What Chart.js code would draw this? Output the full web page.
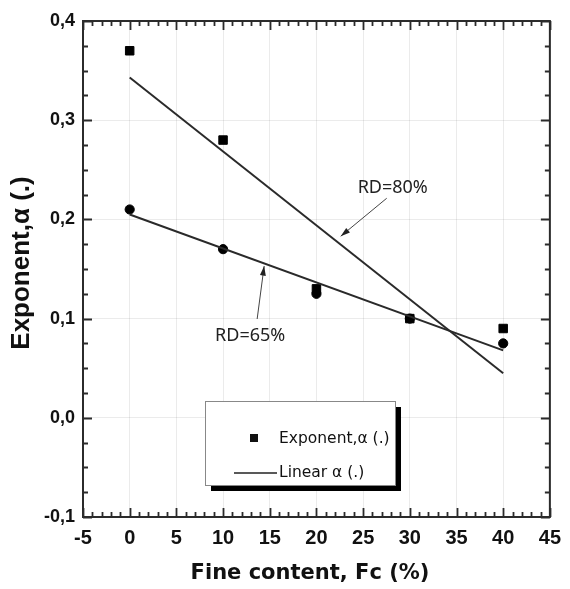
<!DOCTYPE html>
<html>
<head>
<meta charset="utf-8">
<script src="https://cdn.jsdelivr.net/npm/chart.js@4.4.0/dist/chart.umd.min.js"></script>
<style>
  html, body { margin: 0; padding: 0; background: #fff; }
</style>
</head>
<body>
<canvas id="myChart" width="570" height="589"></canvas>
<script>
// Fine content (%) of the tested mixes
const fineContent = [0, 10, 20, 30, 40];
// Measured exponent alpha: RD=80% (squares) and RD=65% (circles)
const alphaRD80 = [0.37, 0.28, 0.13, 0.10, 0.09];
const alphaRD65 = [0.21, 0.17, 0.125, 0.10, 0.075];
// Linear trend lines, read at both ends
const fitX = [0, 40];
const fitRD80 = [0.343, 0.045];
const fitRD65 = [0.205, 0.068];
// Texts
const legendLabels = ['Exponent,\u03b1 (.)', 'Linear \u03b1 (.)'];
const xTitle = 'Fine content, Fc (%)';
const yTitle = 'Exponent,\u03b1 (.)';

const toPoints = (xs, ys) => xs.map((v, i) => ({ x: v, y: ys[i] }));

// arrow annotations: tip in data units, tail and label offsets in pixels
const notes = [
    { text: 'RD=80%', x: 22.6, y: 0.183, tail: [46, -38], label: [52, -48] },
    { text: 'RD=65%', x: 14.4, y: 0.153, tail: [-7, 53], label: [-14, 70] }
];

const drawArrow = (ctx, x1, y1, x2, y2) => {
    ctx.beginPath();
    ctx.moveTo(x1, y1);
    ctx.lineTo(x2, y2);
    ctx.stroke();
    const ang = Math.atan2(y2 - y1, x2 - x1);
    ctx.beginPath();
    ctx.moveTo(x2, y2);
    ctx.lineTo(x2 - 10 * Math.cos(ang - 0.3), y2 - 10 * Math.sin(ang - 0.3));
    ctx.lineTo(x2 - 10 * Math.cos(ang + 0.3), y2 - 10 * Math.sin(ang + 0.3));
    ctx.closePath();
    ctx.fill();
};

const framePlugin = {
    id: 'frame',
    afterDraw(chart) {
        const { ctx, chartArea: a, scales: { x, y } } = chart;
        ctx.save();
        ctx.strokeStyle = '#2b2b2b';
        ctx.lineWidth = 2;
        ctx.strokeRect(a.left, a.top, a.right - a.left, a.bottom - a.top);

        // inward ticks on all four sides
        ctx.lineWidth = 1.8;
        ctx.beginPath();
        for (let v = -5; v <= 45; v += 1) {
            const px = Math.round(x.getPixelForValue(v)) + 0.5;
            const len = v % 5 === 0 ? 9 : 5;
            ctx.moveTo(px, a.bottom); ctx.lineTo(px, a.bottom - len);
            ctx.moveTo(px, a.top); ctx.lineTo(px, a.top + len);
        }
        for (let i = 0; i <= 20; i++) {
            const py = Math.round(y.getPixelForValue(-0.1 + i * 0.025)) + 0.5;
            const len = i % 4 === 0 ? 9 : 5;
            ctx.moveTo(a.left, py); ctx.lineTo(a.left + len, py);
            ctx.moveTo(a.right, py); ctx.lineTo(a.right - len, py);
        }
        ctx.stroke();

        // axis titles
        ctx.fillStyle = '#111';
        ctx.textAlign = 'center';
        ctx.textBaseline = 'middle';
        ctx.font = 'bold 21px "DejaVu Sans"';
        ctx.fillText(xTitle, 310, 574);
        ctx.save();
        ctx.translate(22, 263);
        ctx.rotate(-Math.PI / 2);
        ctx.font = 'bold 26px "Liberation Sans"';
        ctx.fillText(yTitle, 0, 0);
        ctx.restore();

        // annotations
        ctx.strokeStyle = '#444';
        ctx.fillStyle = '#222';
        ctx.lineWidth = 1;
        ctx.font = '18px "Noto Sans"';
        notes.forEach(n => {
            const tx = x.getPixelForValue(n.x), ty = y.getPixelForValue(n.y);
            ctx.fillText(n.text, tx + n.label[0], ty + n.label[1]);
            drawArrow(ctx, tx + n.tail[0], ty + n.tail[1], tx, ty);
        });

        // legend box with drop shadow
        const bx = 205, by = 401, bw = 190, bh = 84;
        ctx.fillStyle = '#000';
        ctx.fillRect(bx + 6, by + 6, bw, bh);
        ctx.fillStyle = '#fff';
        ctx.fillRect(bx, by, bw, bh);
        ctx.strokeStyle = '#888';
        ctx.lineWidth = 1;
        ctx.strokeRect(bx + 0.5, by + 0.5, bw, bh);
        ctx.fillStyle = '#111';
        ctx.fillRect(250, 434, 8, 8);
        ctx.strokeStyle = '#222';
        ctx.lineWidth = 1.5;
        ctx.beginPath();
        ctx.moveTo(234, 473); ctx.lineTo(277, 473);
        ctx.stroke();
        ctx.textAlign = 'left';
        ctx.font = '15.5px "DejaVu Sans"';
        ctx.fillText(legendLabels[0], 279, 439);
        ctx.fillText(legendLabels[1], 279, 473);
        ctx.restore();
    }
};

const ctx = document.getElementById('myChart').getContext('2d');
const myChart = new Chart(ctx, {
    type: 'scatter',
    data: {
        datasets: [
            {
                label: 'Linear RD=80%',
                type: 'line',
                data: toPoints(fitX, fitRD80),
                borderColor: '#2a2a2a',
                borderWidth: 2,
                pointRadius: 0
            },
            {
                label: 'Linear RD=65%',
                type: 'line',
                data: toPoints(fitX, fitRD65),
                borderColor: '#2a2a2a',
                borderWidth: 2,
                pointRadius: 0
            },
            {
                label: 'RD=80%',
                data: toPoints(fineContent, alphaRD80),
                pointStyle: 'rect',
                pointRadius: 6,
                backgroundColor: '#000',
                borderColor: '#000'
            },
            {
                label: 'RD=65%',
                data: toPoints(fineContent, alphaRD65),
                pointStyle: 'circle',
                pointRadius: 4.6,
                backgroundColor: '#000',
                borderColor: '#000'
            }
        ]
    },
    options: {
        responsive: false,
        animation: false,
        layout: { padding: { top: 21, right: 13, left: 0, bottom: 0 } },
        plugins: { legend: { display: false }, tooltip: { enabled: false } },
        scales: {
            x: {
                min: -5, max: 45,
                afterFit: s => { s.height = 72; },
                grid: { color: 'rgba(0,0,0,0.08)', drawTicks: false },
                border: { display: false },
                ticks: {
                    stepSize: 5, padding: 9, color: '#111',
                    font: { family: '"Liberation Sans"', size: 20, weight: 'bold' }
                }
            },
            y: {
                min: -0.1, max: 0.4,
                afterFit: s => { s.width = 83; },
                grid: { color: 'rgba(0,0,0,0.08)', drawTicks: false },
                border: { display: false },
                ticks: {
                    stepSize: 0.1, padding: 8, color: '#111',
                    font: { family: '"Liberation Sans"', size: 18, weight: 'bold' },
                    callback: v => v.toFixed(1).replace('.', ',')
                }
            }
        }
    },
    plugins: [framePlugin]
});
</script>
</body>
</html>
